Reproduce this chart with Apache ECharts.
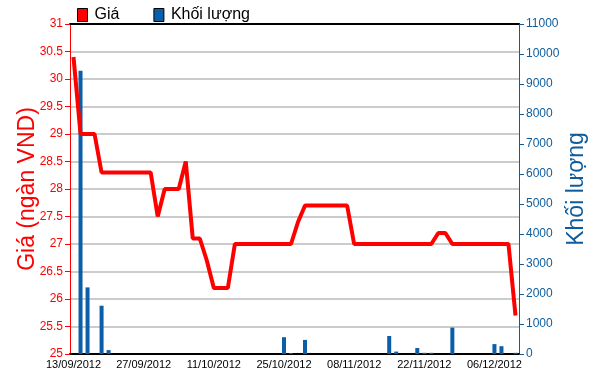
<!DOCTYPE html>
<html>
<head>
<meta charset="utf-8">
<script src="https://cdn.jsdelivr.net/npm/echarts@6/dist/echarts.min.js"></script>
<style>
html,body{margin:0;padding:0;background:#fff;}
#c{width:595px;height:381px;}
</style>
</head>
<body>
<div id="c"></div>
<script>
const dates = ['13/09/2012','14/09/2012','17/09/2012','18/09/2012','19/09/2012','20/09/2012','21/09/2012','24/09/2012','25/09/2012','26/09/2012',
'27/09/2012','28/09/2012','01/10/2012','02/10/2012','03/10/2012','04/10/2012','05/10/2012','08/10/2012','09/10/2012','10/10/2012',
'11/10/2012','12/10/2012','15/10/2012','16/10/2012','17/10/2012','18/10/2012','19/10/2012','22/10/2012','23/10/2012','24/10/2012',
'25/10/2012','26/10/2012','29/10/2012','30/10/2012','31/10/2012','01/11/2012','02/11/2012','05/11/2012','06/11/2012','07/11/2012',
'08/11/2012','09/11/2012','12/11/2012','13/11/2012','14/11/2012','15/11/2012','16/11/2012','19/11/2012','20/11/2012','21/11/2012',
'22/11/2012','23/11/2012','26/11/2012','27/11/2012','28/11/2012','29/11/2012','30/11/2012','03/12/2012','04/12/2012','05/12/2012',
'06/12/2012','07/12/2012','10/12/2012','11/12/2012'];

const prices = [30.4,29,29,29,28.3,28.3,28.3,28.3,28.3,28.3,
28.3,28.3,27.5,28,28,28,28.5,27.1,27.1,26.7,
26.2,26.2,26.2,27,27,27,27,27,27,27,
27,27,27.4,27.7,27.7,27.7,27.7,27.7,27.7,27.7,
27,27,27,27,27,27,27,27,27,27,
27,27,27.2,27.2,27,27,27,27,27,27,
27,27,27,25.7];

const volumes = [0,9440,2220,0,1610,130,0,0,0,0,
0,0,0,0,0,0,0,0,0,0,
0,0,0,0,0,0,0,0,0,0,
560,30,0,470,0,0,0,0,0,0,
0,0,0,0,0,600,80,0,0,200,
40,40,0,0,880,0,0,0,0,0,
330,260,0,40];

const priceTicks = {min:25, max:31, interval:0.5};
const volTicks = {min:0, max:11000, interval:1000};

const FONT = "'Liberation Sans',Arial,sans-serif";
const RED = '#ff0000';
const BLUE = '#0e5c9c';
const chart = echarts.init(document.getElementById('c'), null, {renderer:'canvas'});
chart.setOption({
  animation:false,
  backgroundColor:'#ffffff',
  legend:{
    left:77, top:7, itemWidth:10, itemHeight:13, itemGap:34, padding:0,
    textStyle:{fontFamily:FONT, fontSize:16, color:'#000', padding:[0,0,0,2]},
    data:[
      {name:'Giá', icon:'rect', itemStyle:{color:RED, borderColor:'#000', borderWidth:1}},
      {name:'Khối lượng', icon:'rect', itemStyle:{color:'#0b5ea8', borderColor:'#000', borderWidth:1}}
    ]
  },
  grid:{left:70, top:24, width:449, height:330, containLabel:false, outerBoundsMode:'none'},
  xAxis:[{
    type:'category', data:dates, boundaryGap:true, position:'bottom',
    axisLine:{lineStyle:{color:'#000', width:2}},
    axisTick:{alignWithLabel:true, interval:9, length:6, lineStyle:{color:'#000'}},
    axisLabel:{interval:9, color:'#000', fontSize:11, fontFamily:FONT, margin:5},
    splitLine:{show:false}
  },{
    type:'category', data:dates, position:'top',
    axisLine:{lineStyle:{color:'#000', width:2}},
    axisTick:{show:false}, axisLabel:{show:false}, splitLine:{show:false}
  }],
  yAxis:[{
    type:'value', position:'left', min:priceTicks.min, max:priceTicks.max, interval:priceTicks.interval,
    name:'Giá (ngàn VND)', nameLocation:'middle', nameGap:31, nameRotate:90, nameMoveOverlap:false,
    nameTextStyle:{color:RED, fontSize:23, fontFamily:FONT},
    axisLine:{show:true, lineStyle:{color:RED, width:1}},
    axisTick:{show:true, length:5, lineStyle:{color:RED}},
    axisLabel:{color:RED, fontSize:12, fontFamily:FONT, margin:7},
    splitLine:{show:true, lineStyle:{color:'#cccccc', width:2}}
  },{
    type:'value', position:'right', min:volTicks.min, max:volTicks.max, interval:volTicks.interval,
    name:'Khối lượng', nameLocation:'middle', nameGap:46, nameRotate:90, nameMoveOverlap:false,
    nameTextStyle:{color:BLUE, fontSize:23, fontFamily:FONT},
    axisLine:{show:true, lineStyle:{color:BLUE, width:1}},
    axisTick:{show:true, length:5, lineStyle:{color:BLUE}},
    axisLabel:{color:BLUE, fontSize:12, fontFamily:FONT, margin:7, formatter:function(v){return String(v);}},
    splitLine:{show:false}
  }],
  series:[{
    name:'Khối lượng', type:'bar', xAxisIndex:0, yAxisIndex:1, data:volumes,
    barWidth:4, itemStyle:{color:'#0b5ea8'}, z:2
  },{
    name:'Giá', type:'line', xAxisIndex:0, yAxisIndex:0, data:prices,
    symbol:'none', lineStyle:{color:RED, width:4}, itemStyle:{color:RED}, z:3
  }]
});
</script>
</body>
</html>
